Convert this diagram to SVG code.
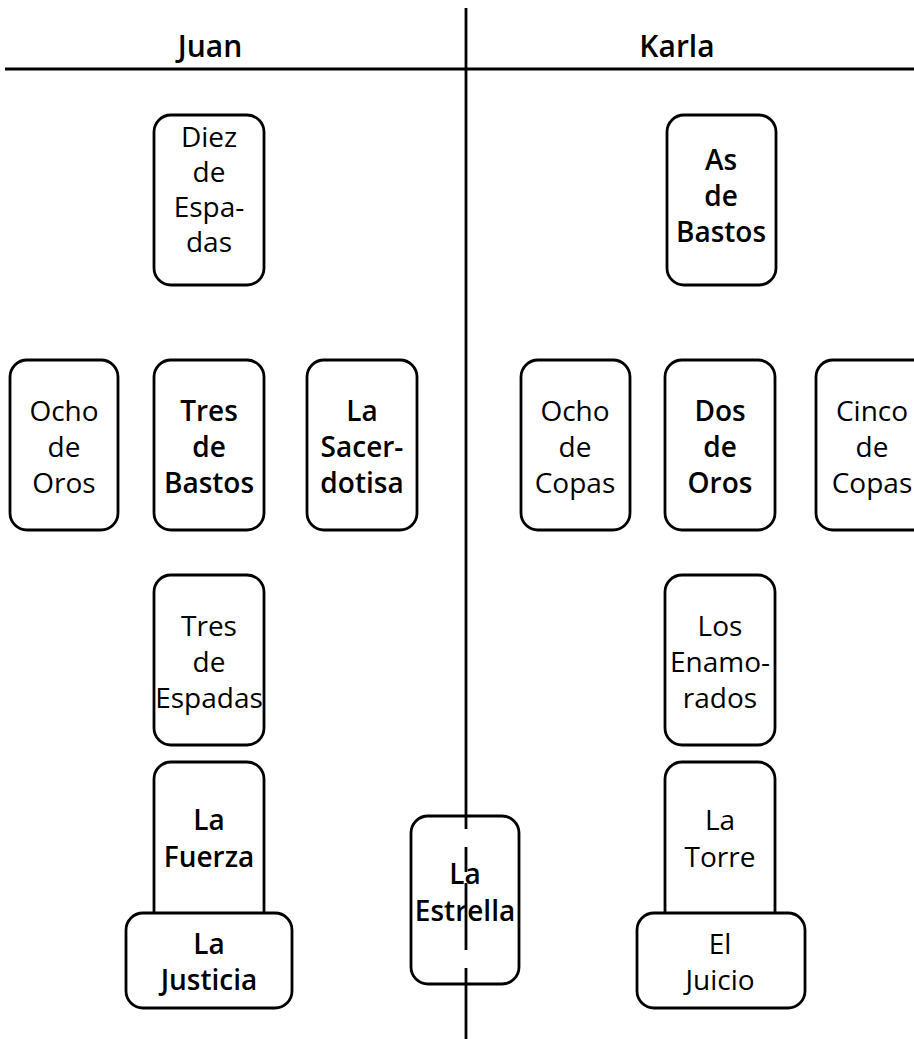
<svg xmlns="http://www.w3.org/2000/svg" width="914" height="1039" viewBox="0 0 914 1039">
<style>
.card{fill:#fff;stroke:#000;stroke-width:2.8}
.t{font-family:"Open Sans","Liberation Sans",sans-serif;font-size:28px;font-weight:500;text-anchor:middle;fill:#000}
.b{font-weight:600}
.h{font-family:"Open Sans","Liberation Sans",sans-serif;font-size:30px;font-weight:600;text-anchor:middle;fill:#000}
.ln{stroke:#000;stroke-width:2.8;fill:none}
</style>
<rect width="914" height="1039" fill="#fff"/>
<g id="headers">
<text class="h" x="210" y="57">Juan</text>
<text class="h" x="677" y="57">Karla</text>
</g>
<g id="connectors">
<line class="ln" x1="5" y1="69" x2="914" y2="69"/>
<line class="ln" x1="466" y1="8" x2="466" y2="817"/>
<line class="ln" x1="466" y1="984" x2="466" y2="1039"/>
</g>
<g id="diez-espadas">
<rect class="card" x="154" y="115" width="110" height="170" rx="17"/>
<text class="t" x="209" y="147">Diez</text>
<text class="t" x="209" y="182">de</text>
<text class="t" x="209" y="217">Espa-</text>
<text class="t" x="209" y="252">das</text>
</g>
<g id="ocho-oros">
<rect class="card" x="10" y="360" width="108" height="170" rx="17"/>
<text class="t" x="64" y="421">Ocho</text>
<text class="t" x="64" y="457">de</text>
<text class="t" x="64" y="493">Oros</text>
</g>
<g id="tres-bastos">
<rect class="card" x="154" y="360" width="110" height="170" rx="17"/>
<text class="t b" x="209" y="421">Tres</text>
<text class="t b" x="209" y="457">de</text>
<text class="t b" x="209" y="493">Bastos</text>
</g>
<g id="sacerdotisa">
<rect class="card" x="307" y="360" width="110" height="170" rx="17"/>
<text class="t b" x="362" y="421">La</text>
<text class="t b" x="362" y="457">Sacer-</text>
<text class="t b" x="362" y="493">dotisa</text>
</g>
<g id="tres-espadas">
<rect class="card" x="154" y="575" width="110" height="170" rx="17"/>
<text class="t" x="209" y="636">Tres</text>
<text class="t" x="209" y="672">de</text>
<text class="t" x="209" y="708">Espadas</text>
</g>
<g id="fuerza">
<rect class="card" x="154" y="762" width="110" height="175" rx="17"/>
<text class="t b" x="209" y="830">La</text>
<text class="t b" x="209" y="867">Fuerza</text>
</g>
<g id="justicia">
<rect class="card" x="126" y="913" width="166" height="95" rx="17"/>
<text class="t b" x="209" y="954">La</text>
<text class="t b" x="209" y="990">Justicia</text>
</g>
<g id="estrella">
<rect class="card" x="411" y="816" width="108" height="168" rx="17"/>
<text class="t b" x="465" y="884">La</text>
<text class="t b" x="465" y="921">Estrella</text>
<path class="ln" d="M466 816V829M466 847V872M466 883V950M466 968V984"/>
</g>
<g id="as-bastos">
<rect class="card" x="667" y="115" width="109" height="170" rx="17"/>
<text class="t b" x="721" y="170">As</text>
<text class="t b" x="721" y="206">de</text>
<text class="t b" x="721" y="242">Bastos</text>
</g>
<g id="ocho-copas">
<rect class="card" x="521" y="360" width="109" height="170" rx="17"/>
<text class="t" x="575" y="421">Ocho</text>
<text class="t" x="575" y="457">de</text>
<text class="t" x="575" y="493">Copas</text>
</g>
<g id="dos-oros">
<rect class="card" x="665" y="360" width="110" height="170" rx="17"/>
<text class="t b" x="720" y="421">Dos</text>
<text class="t b" x="720" y="457">de</text>
<text class="t b" x="720" y="493">Oros</text>
</g>
<g id="cinco-copas">
<rect class="card" x="816" y="360" width="114" height="170" rx="17"/>
<text class="t" x="872" y="421">Cinco</text>
<text class="t" x="872" y="457">de</text>
<text class="t" x="872" y="493">Copas</text>
</g>
<g id="enamorados">
<rect class="card" x="665" y="575" width="110" height="170" rx="17"/>
<text class="t" x="720" y="636">Los</text>
<text class="t" x="720" y="672">Enamo-</text>
<text class="t" x="720" y="708">rados</text>
</g>
<g id="torre">
<rect class="card" x="665" y="762" width="110" height="175" rx="17"/>
<text class="t" x="720" y="830">La</text>
<text class="t" x="720" y="867">Torre</text>
</g>
<g id="juicio">
<rect class="card" x="637" y="913" width="168" height="95" rx="17"/>
<text class="t" x="720" y="954">El</text>
<text class="t" x="720" y="990">Juicio</text>
</g>
</svg>
